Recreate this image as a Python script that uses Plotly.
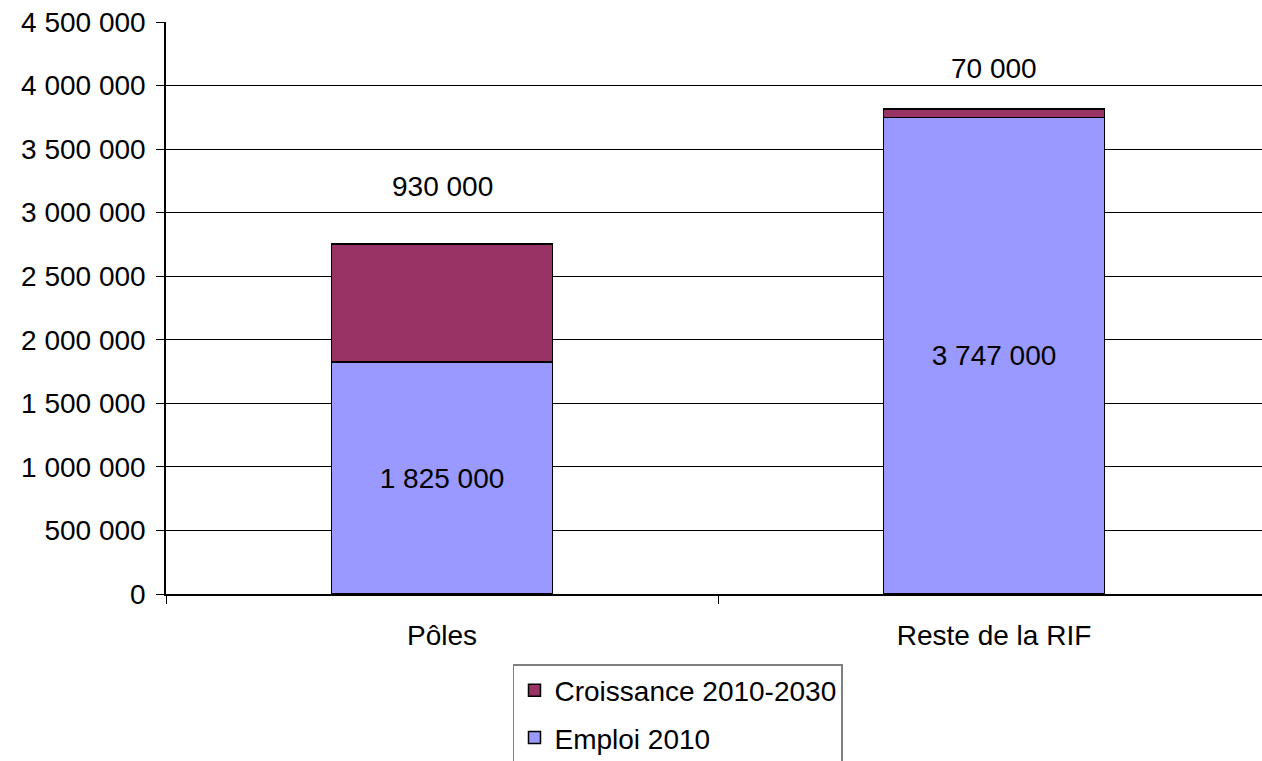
import plotly.graph_objects as go

categories = ["Pôles", "Reste de la RIF"]
emploi_2010 = [1825000, 3747000]
croissance_2010_2030 = [930000, 70000]
series_names = ["Emploi 2010", "Croissance 2010-2030"]
y_tick_values = [0, 500000, 1000000, 1500000, 2000000, 2500000, 3000000, 3500000, 4000000, 4500000]

FONT = "Liberation Sans, Arial, sans-serif"
FS = 28

fig = go.Figure()
fig.add_trace(go.Bar(
    x=categories, y=emploi_2010, name=series_names[0], legendgroup="a", legendrank=2,
    marker=dict(color="#9999FF", line=dict(color="black", width=1.5)),
    texttemplate="%{y:,}", textposition="inside", insidetextanchor="middle",
    textangle=0, constraintext="none",
    textfont=dict(family=FONT, size=FS, color="black"),
    width=0.4, hoverinfo="skip",
))
fig.add_trace(go.Bar(
    x=categories, y=croissance_2010_2030, name=series_names[1], legendgroup="b", legendrank=1,
    marker=dict(color="#993366", line=dict(color="black", width=1.5)),
    width=0.4, hoverinfo="skip",
))

shifts = [57, 40]
for c, e, g, s in zip(categories, emploi_2010, croissance_2010_2030, shifts):
    fig.add_annotation(x=c, y=e + g, text=f"{g:,}".replace(",", " "),
                       showarrow=False, yanchor="middle", yshift=s,
                       font=dict(family=FONT, size=FS, color="black"))

fig.update_layout(
    width=1262, height=761,
    margin=dict(l=166, r=0, t=22, b=167, autoexpand=False),
    paper_bgcolor="white", plot_bgcolor="white",
    barmode="stack", separators=", ",
    font=dict(family=FONT, size=FS, color="black"),
    showlegend=True,
    legend=dict(
        x=0.3166, y=-0.1224, xanchor="left", yanchor="top",
        bordercolor="#808080", borderwidth=1.5, bgcolor="white",
        traceorder="grouped", tracegroupgap=8, entrywidth=310,
        font=dict(family=FONT, size=FS, color="black"),
    ),
    xaxis=dict(
        type="category", range=[-0.5, 1.4855],
        showline=True, linecolor="black", linewidth=1.5,
        ticks="outside", tickson="boundaries", ticklen=8, tickcolor="black",
        showgrid=False, ticklabelstandoff=16,
        tickfont=dict(family=FONT, size=FS, color="black"),
    ),
    yaxis=dict(
        range=[0, 4500000], tickvals=y_tick_values, tickformat=",d",
        showline=True, linecolor="black", linewidth=1.5,
        ticks="outside", ticklen=8, tickcolor="black",
        showgrid=True, gridcolor="black", gridwidth=1,
        zeroline=False, ticklabelstandoff=5,
        tickfont=dict(family=FONT, size=FS, color="black"),
    ),
)

fig.write_html("out.html", config={"displayModeBar": False},
               post_script="document.body.style.margin='0';document.body.style.overflow='hidden';")
